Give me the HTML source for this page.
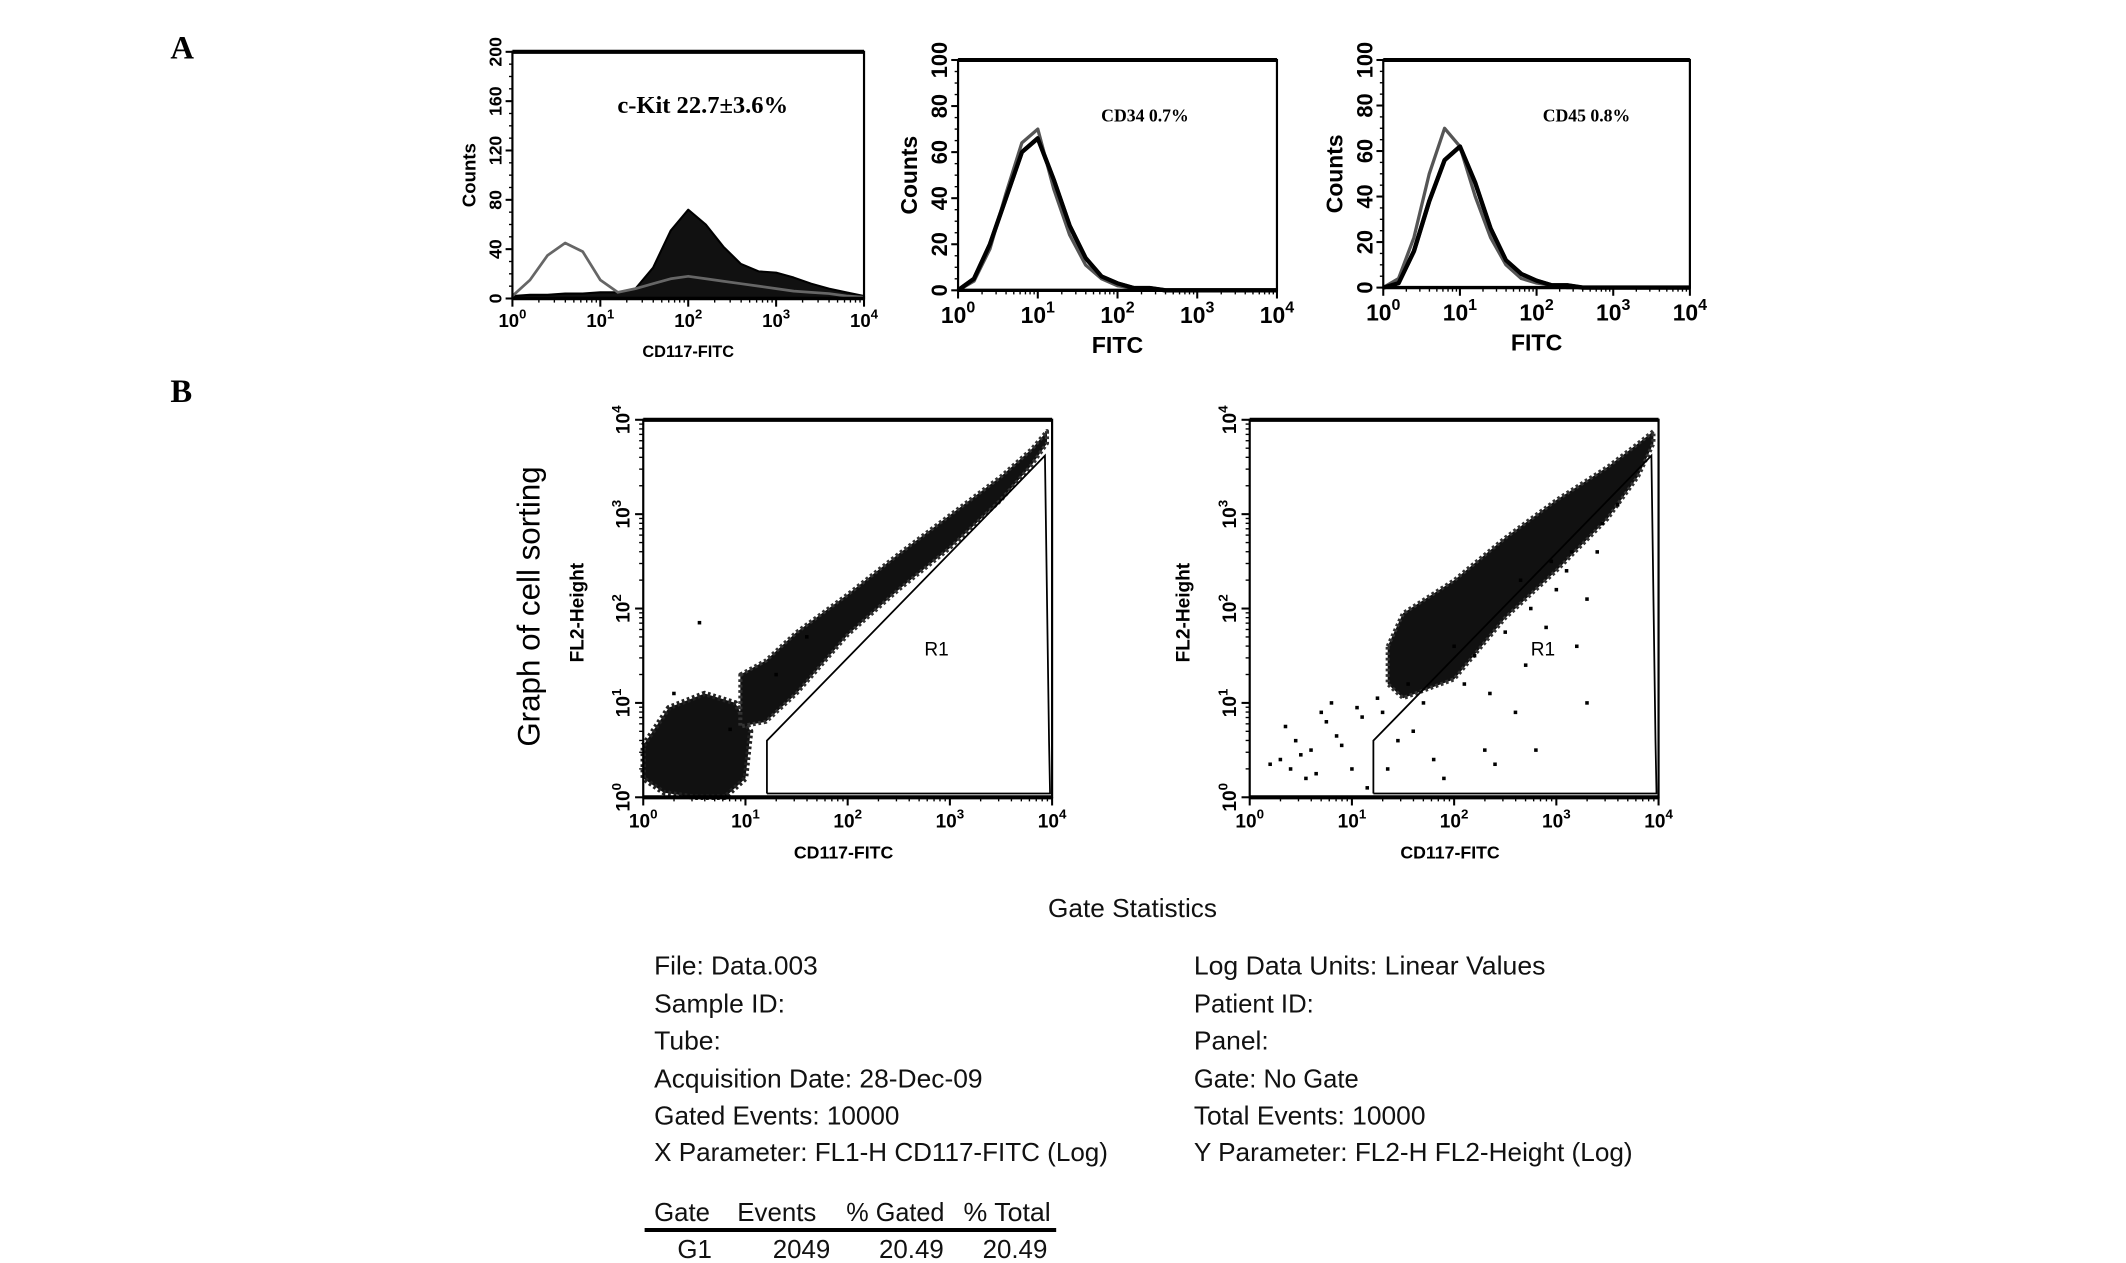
<!DOCTYPE html>
<html><head><meta charset="utf-8"><style>
html,body{margin:0;padding:0;background:#fff;}
svg{display:block;}
text{font-family:"Liberation Sans",sans-serif;}
.serif{font-family:"Liberation Serif",serif;font-weight:bold;}
</style></head><body>
<svg id="fig" width="2126" height="1263" viewBox="0 0 1560 926.7" xmlns="http://www.w3.org/2000/svg">
<text x="125" y="43" class="serif" font-size="24">A</text>
<text x="125" y="295" class="serif" font-size="24">B</text>
<g id="plots"></g>
<g font-size="19" fill="#111">
<text x="831" y="673" text-anchor="middle" textLength="124" lengthAdjust="spacingAndGlyphs">Gate Statistics</text>
<text x="480" y="715" textLength="120" lengthAdjust="spacingAndGlyphs">File: Data.003</text>
<text x="480" y="743" textLength="96" lengthAdjust="spacingAndGlyphs">Sample ID:</text>
<text x="480" y="770" textLength="49" lengthAdjust="spacingAndGlyphs">Tube:</text>
<text x="480" y="798" textLength="241" lengthAdjust="spacingAndGlyphs">Acquisition Date: 28-Dec-09</text>
<text x="480" y="825" textLength="180" lengthAdjust="spacingAndGlyphs">Gated Events: 10000</text>
<text x="480" y="852" textLength="333" lengthAdjust="spacingAndGlyphs">X Parameter: FL1-H CD117-FITC (Log)</text>
<text x="876" y="715" textLength="258" lengthAdjust="spacingAndGlyphs">Log Data Units: Linear Values</text>
<text x="876" y="743" textLength="88" lengthAdjust="spacingAndGlyphs">Patient ID:</text>
<text x="876" y="770" textLength="55" lengthAdjust="spacingAndGlyphs">Panel:</text>
<text x="876" y="798" textLength="121" lengthAdjust="spacingAndGlyphs">Gate: No Gate</text>
<text x="876" y="825" textLength="170" lengthAdjust="spacingAndGlyphs">Total Events: 10000</text>
<text x="876" y="852" textLength="322" lengthAdjust="spacingAndGlyphs">Y Parameter: FL2-H FL2-Height (Log)</text>
<g>
<text x="480" y="896" textLength="41" lengthAdjust="spacingAndGlyphs">Gate</text>
<text x="541" y="896" textLength="58" lengthAdjust="spacingAndGlyphs">Events</text>
<text x="621" y="896" textLength="72" lengthAdjust="spacingAndGlyphs">% Gated</text>
<text x="707" y="896" textLength="64" lengthAdjust="spacingAndGlyphs">% Total</text>
<line x1="473" y1="902.5" x2="775" y2="902.5" stroke="#000" stroke-width="3"/>
<text x="497" y="923">G1</text>
<text x="567" y="923">2049</text>
<text x="645" y="923">20.49</text>
<text x="721" y="923">20.49</text>
</g></g>
</svg>
<script>
// ---- Histogram data (log10 decade positions, counts) ----
const histX = [0,0.2,0.4,0.6,0.8,1.0,1.2,1.4,1.6,1.8,2.0,2.2,2.4,2.6,2.8,3.0,3.2,3.4,3.6,3.8,4.0];
const ckitStained = [2,3,3,4,4,5,5,8,25,55,72,60,42,28,22,21,17,12,8,5,2];
const ckitIsotype = [2,15,35,45,38,15,5,8,12,16,18,16,14,12,10,8,6,5,4,2,1];
const cd34Stained = [0,5,20,40,60,66,48,28,14,6,3,1,1,0,0,0,0,0,0,0,0];
const cd34Isotype = [0,4,18,42,64,70,44,24,11,5,2,1,0,0,0,0,0,0,0,0,0];
const cd45Stained = [0,2,16,38,56,62,46,26,12,6,3,1,1,0,0,0,0,0,0,0,0];
const cd45Isotype = [0,4,22,50,70,62,40,22,10,4,2,1,0,0,0,0,0,0,0,0,0];
// ---- Scatter band data (log x, low/high log y) ----
const bandX1 = [0.95,1.2,1.5,2.0,2.5,3.0,3.5,3.8,3.95];
const bandLo1 = [0.75,0.8,1.1,1.72,2.2,2.64,3.15,3.52,3.75];
const bandHi1 = [1.3,1.45,1.75,2.15,2.58,2.99,3.4,3.69,3.88];
const blobX1 = [0.0,0.25,0.6,0.9,1.05,1.0,0.8,0.5,0.2,0.0];
const blobY1 = [0.55,0.95,1.1,1.0,0.7,0.2,0.0,0.0,0.05,0.2];
const bandX2 = [1.35,1.5,2.0,2.5,3.0,3.5,3.8,3.95];
const bandLo2 = [1.2,1.05,1.25,1.9,2.4,2.95,3.4,3.75];
const bandHi2 = [1.6,1.95,2.3,2.75,3.15,3.5,3.75,3.88];
const sparseX2 = [0.3,0.45,0.6,0.75,0.9,1.0,0.55,0.8,1.1,1.3,1.6,1.8,2.1,2.3,2.6,2.7,2.9,3.1,3.2,3.3,3.4,2.0,2.4,1.9,2.8,3.3,0.7,0.4,1.15,0.2,0.35,0.5,0.65,0.85,1.05,1.25,1.45,1.7,2.2,2.5,2.75,3.0,3.15,3.45,3.6,2.35,2.65,2.95,1.35,1.55];
const sparseY2 = [0.4,0.6,0.5,0.8,0.55,0.3,0.2,1.0,0.85,0.9,0.7,0.4,1.2,0.5,0.9,1.4,1.8,2.4,1.6,2.1,2.6,1.6,0.35,0.2,0.5,1.0,0.9,0.3,0.1,0.35,0.75,0.45,0.25,0.65,0.95,1.05,0.6,1.0,1.5,1.75,2.0,2.2,2.6,2.9,3.1,1.1,2.3,2.5,0.3,1.2];
const sparseX1 = [0.55,0.85,1.3,1.6,0.3];
const sparseY1 = [1.85,0.72,1.3,1.7,1.1];
// ---- Gate R1 polygon (log x, log y) ----
const gateX = [1.21,1.21,3.93,3.97,3.98,1.21];
const gateY = [0.04,0.6,3.62,0.6,0.04,0.04];

const NS="http://www.w3.org/2000/svg";
const root=document.getElementById('plots');
function mk(tag,attrs,parent){const e=document.createElementNS(NS,tag);for(const k in attrs)e.setAttribute(k,attrs[k]);(parent||root).appendChild(e);return e;}

function logTickLabel(g,x,y,p,size,rot){
  const t=mk('text',{x:x,y:y,'font-size':size,'text-anchor':'middle','font-weight':'bold'},g);
  if(rot) t.setAttribute('transform','rotate(-90 '+x+' '+y+')');
  t.textContent='10';
  const s=mk('tspan',{dy:-size*0.45,'font-size':size*0.7},t);s.textContent=String(p);
}

function histPanel(name,L,R,T,B,ymax,ystep,stained,isotype,filled,ann,annX,annSize,xlabel,xlSize,tickSize){
  const g=mk('g',{});
  
  
  const sx=v=>L+(R-L)*v/4, sy=v=>B-(B-T)*v/ymax;
  let d='M'+sx(histX[0])+','+sy(0);
  histX.forEach((x,i)=>{d+=' L'+sx(x)+','+sy(stained[i]);});
  d+=' L'+sx(4)+','+sy(0)+'Z';
  const p1=mk('path',{d:filled?d:d.replace('Z',''),fill:filled?'#111':'none',stroke:'#000','stroke-width':filled?1.5:3.2,'stroke-linejoin':'round'},g);
  
  
  let d2='';
  histX.forEach((x,i)=>{d2+=(i?' L':'M')+sx(x)+','+sy(isotype[i]);});
  const p2=mk('path',{d:d2,fill:'none',stroke:filled?'#666':'#555','stroke-width':filled?2:2.4,'stroke-linejoin':'round'},g);
  
  
  if(!filled){
    const p3=mk('path',{d:d.replace('Z','').replace(/^M[^L]*/,'M'+sx(0)+','+sy(0)),fill:'none',stroke:'#000','stroke-width':3,'stroke-linejoin':'round'},g);
    
    
  }
  const box=mk('rect',{x:L,y:T,width:R-L,height:B-T,fill:'none',stroke:'#000','stroke-width':1.6},g);
  
  
  mk('line',{x1:L,y1:T,x2:R,y2:T,stroke:'#000','stroke-width':3},g);
  mk('line',{x1:L,y1:B,x2:R,y2:B,stroke:'#000','stroke-width':2.5},g);
  for(let v=0;v<=ymax;v+=ystep){
    mk('line',{x1:L-5,y1:sy(v),x2:L,y2:sy(v),stroke:'#000','stroke-width':1.5},g);
    const t=mk('text',{x:L-8,y:sy(v),'font-size':tickSize,'font-weight':'bold','text-anchor':'middle',transform:'rotate(-90 '+(L-8)+' '+sy(v)+')'},g);
    t.textContent=String(v);
    
    
  }
  for(let v=0;v<=ymax;v+=ystep/4) mk('line',{x1:L-2.5,y1:sy(v),x2:L,y2:sy(v),stroke:'#000','stroke-width':1},g);
  for(let p=0;p<=4;p++){
    mk('line',{x1:sx(p),y1:B,x2:sx(p),y2:B+6,stroke:'#000','stroke-width':1.5},g);
    logTickLabel(g,sx(p),B+tickSize+8,p,tickSize*1.05,false);
    if(p<4)for(let k=2;k<10;k++){const xx=sx(p+Math.log10(k));mk('line',{x1:xx,y1:B,x2:xx,y2:B+3,stroke:'#000','stroke-width':1},g);}
  }
  const yl=mk('text',{x:L-(tickSize+14),y:(T+B)/2,'font-size':tickSize*1.05,'font-weight':'bold','text-anchor':'middle',transform:'rotate(-90 '+(L-(tickSize+14))+' '+(T+B)/2+')'},g);
  yl.textContent='Counts';
  
  
  const xl=mk('text',{x:(L+R)/2,y:B+tickSize+30,'font-size':xlSize,'font-weight':'bold','text-anchor':'middle'},g);
  xl.textContent=xlabel;
  
  
  const an=mk('text',{x:annX,y:T+45,'font-size':annSize,'class':'serif'},g);
  an.textContent=ann;
  
  
}

histPanel('ckit-histogram',376,634,38,219,200,40,ckitStained,ckitIsotype,true,'c-Kit  22.7\u00b13.6%',453,18,'CD117-FITC',12,13);
histPanel('cd34-histogram',703,937,44,213,100,20,cd34Stained,cd34Isotype,false,'CD34  0.7%',808,13,'FITC',17,16);
histPanel('cd45-histogram',1015,1240,44,211,100,20,cd45Stained,cd45Isotype,false,'CD45  0.8%',1132,13,'FITC',17,16);

function scatterPanel(name,L,R,T,B,bx,blo,bhi,blobX,blobY,spx,spy){
  const g=mk('g',{});
  
  
  const sx=v=>L+(R-L)*v/4, sy=v=>B-(B-T)*v/4;
  if(blobX){
    let d='';blobX.forEach((x,i)=>{d+=(i?' L':'M')+sx(x)+','+sy(blobY[i]);});
    const b=mk('path',{d:d+'Z',fill:'#111',stroke:'#222','stroke-width':4,'stroke-linejoin':'round','stroke-dasharray':'2 2'},g);
    
    
  }
  let d='';
  bx.forEach((x,i)=>{d+=(i?' L':'M')+sx(x)+','+sy(bhi[i]);});
  for(let i=bx.length-1;i>=0;i--) d+=' L'+sx(bx[i])+','+sy(blo[i]);
  const band=mk('path',{d:d+'Z',fill:'#111',stroke:'#333','stroke-width':3,'stroke-dasharray':'2 2','stroke-linejoin':'round'},g);
  
  
  spx.forEach((x,i)=>{
    const c=mk('rect',{x:sx(x)-1.3,y:sy(spy[i])-1.3,width:2.6,height:2.6,fill:'#000'},g);
    
    
  });
  let gd='';gateX.forEach((x,i)=>{gd+=(i?' L':'M')+sx(x)+','+sy(gateY[i]);});
  const gate=mk('path',{d:gd,fill:'none',stroke:'#000','stroke-width':1.3},g);
  
  
  const r1=mk('text',{x:sx(2.75),y:sy(1.5),'font-size':14},g);
  r1.textContent='R1';
  
  
  mk('rect',{x:L,y:T,width:R-L,height:B-T,fill:'none',stroke:'#000','stroke-width':1.6},g);
  mk('line',{x1:L,y1:T,x2:R,y2:T,stroke:'#000','stroke-width':3},g);
  mk('line',{x1:L,y1:B,x2:R,y2:B,stroke:'#000','stroke-width':3},g);
  for(let p=0;p<=4;p++){
    mk('line',{x1:sx(p),y1:B,x2:sx(p),y2:B+6,stroke:'#000','stroke-width':1.5},g);
    mk('line',{x1:L-6,y1:sy(p),x2:L,y2:sy(p),stroke:'#000','stroke-width':1.5},g);
    logTickLabel(g,sx(p),B+22,p,14,false);
    logTickLabel(g,L-10,sy(p),p,14,true);
    if(p<4)for(let k=2;k<10;k++){const o=Math.log10(k);
      mk('line',{x1:sx(p+o),y1:B,x2:sx(p+o),y2:B+3,stroke:'#000','stroke-width':1},g);
      mk('line',{x1:L-3,y1:sy(p+o),x2:L,y2:sy(p+o),stroke:'#000','stroke-width':1},g);}
  }
  const xl=mk('text',{x:(L+R)/2-3,y:B+45,'font-size':13,'font-weight':'bold','text-anchor':'middle'},g);
  xl.textContent='CD117-FITC';
  
  
  const yx=L-44, yy=(T+B)/2+3;
  const yl=mk('text',{x:yx,y:yy,'font-size':14,'font-weight':'bold','text-anchor':'middle',transform:'rotate(-90 '+yx+' '+yy+')'},g);
  yl.textContent='FL2-Height';
  
  
}
scatterPanel('cd117-scatter-before',472,772,308,585,bandX1,bandLo1,bandHi1,blobX1,blobY1,sparseX1,sparseY1);
scatterPanel('cd117-scatter-after',917,1217,308,585,bandX2,bandLo2,bandHi2,null,null,sparseX2,sparseY2);
const gt=mk('text',{x:396,y:445,'font-size':23,'text-anchor':'middle',transform:'rotate(-90 396 445)'});
gt.textContent='Graph of cell sorting';


</script>
</body></html>
